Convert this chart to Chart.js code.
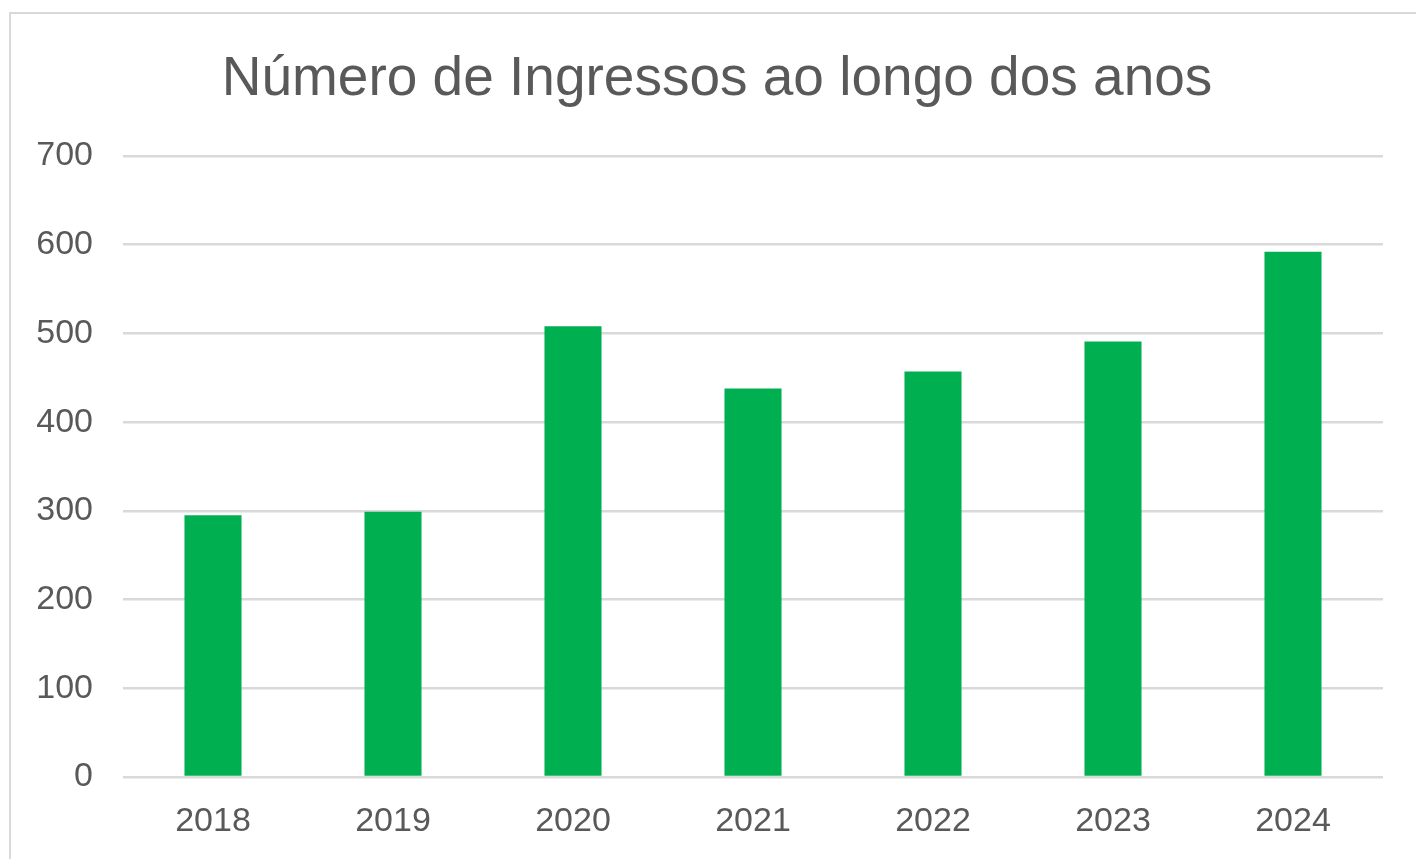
<!DOCTYPE html>
<html>
<head>
<meta charset="utf-8">
<script src="https://cdn.jsdelivr.net/npm/chart.js@4"></script>
<style>
  html, body { margin: 0; padding: 0; background: #fff; overflow: hidden; }
  #frame {
    position: absolute; left: 9px; top: 12px;
    width: 1416px; height: 860px;
    border: 2px solid #d9d9d9; box-sizing: border-box;
  }
</style>
</head>
<body>
<div id="frame">
  <canvas id="chart" width="1412" height="845"></canvas>
</div>
<script>
const years = ["2018", "2019", "2020", "2021", "2022", "2023", "2024"];
const ingressos = [295, 299, 508, 438, 457, 491, 592];
const titleText = "Número de Ingressos ao longo dos anos";

const textColor = "#595959";
const gridColor = "#d9d9d9";
const fontFamily = "'Liberation Sans', Arial, sans-serif";

new Chart(document.getElementById("chart"), {
  type: "bar",
  data: {
    labels: years,
    datasets: [{
      label: "Ingressos",
      data: ingressos,
      backgroundColor: "#00b050",
      borderWidth: 0,
      categoryPercentage: 1,
      barPercentage: 0.317
    }]
  },
  options: {
    responsive: false,
    animation: false,
    layout: { padding: 0 },
    plugins: {
      legend: { display: false },
      tooltip: { enabled: false },
      title: {
        display: true,
        text: titleText,
        color: textColor,
        font: { family: fontFamily, size: 55, weight: "normal" },
        padding: { top: 33, bottom: 43 }
      }
    },
    scales: {
      x: {
        grid: { display: false, drawTicks: false },
        border: { display: false },
        ticks: {
          color: textColor,
          font: { family: fontFamily, size: 34 },
          padding: 24,
          maxRotation: 0
        },
        afterFit: scale => { scale.height = 82; }
      },
      y: {
        min: 0,
        max: 700,
        grid: { color: gridColor, lineWidth: 2.5, drawTicks: false },
        border: { display: false },
        ticks: {
          stepSize: 100,
          color: textColor,
          font: { family: fontFamily, size: 34 },
          padding: 30
        },
        afterFit: scale => { scale.width = 112; }
      },
      // empty right-hand spacer so the plot ends before the frame
      // while the title stays centred on the full width
      spacer: {
        type: "linear",
        position: "right",
        grid: { display: false, drawTicks: false },
        border: { display: false },
        ticks: { display: false },
        afterFit: scale => { scale.width = 40; }
      }
    }
  }
});
</script>
</body>
</html>
